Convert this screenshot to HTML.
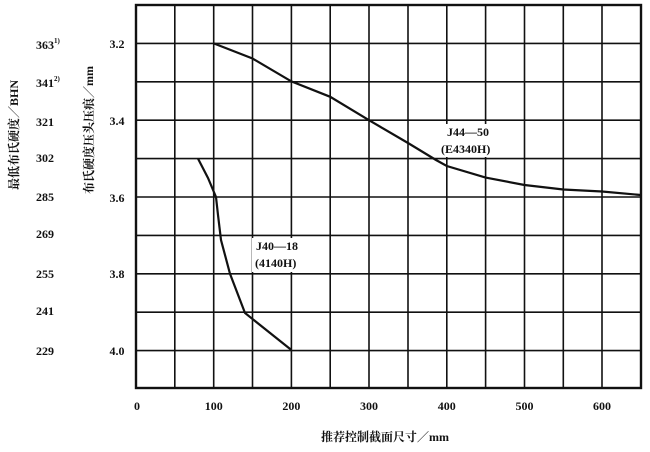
<!DOCTYPE html>
<html><head><meta charset="utf-8"><style>
body{margin:0;background:#fff;}
svg text{font-family:"Liberation Serif","Noto Serif CJK SC",serif;font-weight:bold;fill:#111;}
</style></head><body>
<svg width="650" height="447" viewBox="0 0 650 447" xmlns="http://www.w3.org/2000/svg">
<g stroke="#111" stroke-width="1.6" fill="none">
<line x1="174.8" y1="5" x2="174.8" y2="388"/><line x1="213.7" y1="5" x2="213.7" y2="388"/>
<line x1="252.5" y1="5" x2="252.5" y2="388"/><line x1="291.4" y1="5" x2="291.4" y2="388"/>
<line x1="330.2" y1="5" x2="330.2" y2="388"/><line x1="369" y1="5" x2="369" y2="388"/>
<line x1="408" y1="5" x2="408" y2="388"/><line x1="446.8" y1="5" x2="446.8" y2="388"/>
<line x1="485.6" y1="5" x2="485.6" y2="388"/><line x1="524.5" y1="5" x2="524.5" y2="388"/>
<line x1="563.3" y1="5" x2="563.3" y2="388"/><line x1="602" y1="5" x2="602" y2="388"/>
<line x1="136" y1="43.4" x2="641" y2="43.4"/><line x1="136" y1="81.8" x2="641" y2="81.8"/>
<line x1="136" y1="120.2" x2="641" y2="120.2"/><line x1="136" y1="158.6" x2="641" y2="158.6"/>
<line x1="136" y1="197" x2="641" y2="197"/><line x1="136" y1="235.4" x2="641" y2="235.4"/>
<line x1="136" y1="273.8" x2="641" y2="273.8"/><line x1="136" y1="312.2" x2="641" y2="312.2"/>
<line x1="136" y1="350.6" x2="641" y2="350.6"/>
</g>
<rect x="437" y="124" width="66" height="33" fill="#fff"/>
<rect x="252" y="238" width="60" height="34" fill="#fff"/>
<g stroke="#111" fill="none">
<rect x="136" y="5" width="505" height="383" stroke-width="2.4"/>
<polyline stroke-width="2.2" points="213.7,43.4 252.5,58.5 291.4,81.4 330.2,96.8 369,120.2 408,143 436,160 446.8,166 485.6,177.6 524.5,185 563.3,189.5 602,191.5 641,195"/>
<polyline stroke-width="2.2" points="198,158.6 208,178 216,197 218,215 221,240 230,273.8 245,313 291.4,350"/>
</g>
<g font-size="12" text-anchor="middle">
<text x="137" y="410">0</text><text x="213.7" y="410">100</text><text x="291.4" y="410">200</text>
<text x="369" y="410">300</text><text x="446.8" y="410">400</text><text x="524.5" y="410">500</text><text x="602" y="410">600</text>
</g>
<g font-size="12" text-anchor="middle">
<text x="117" y="48">3.2</text><text x="117" y="125">3.4</text><text x="117" y="202">3.6</text>
<text x="117" y="278">3.8</text><text x="117" y="355">4.0</text>
</g>
<g font-size="12" text-anchor="start">
<text x="36" y="49">363<tspan font-size="7" dy="-6">1)</tspan></text>
<text x="36" y="87">341<tspan font-size="7" dy="-6">2)</tspan></text>
<text x="36" y="126">321</text><text x="36" y="162">302</text><text x="36" y="201">285</text>
<text x="36" y="238">269</text><text x="36" y="278">255</text><text x="36" y="315">241</text><text x="36" y="355">229</text>
</g>
<text font-size="12" transform="translate(18,135) rotate(-90)" text-anchor="middle">最低布氏硬度／BHN</text>
<text font-size="12" transform="translate(93,130) rotate(-90)" text-anchor="middle">布氏硬度压头压痕／mm</text>
<text font-size="12" x="385" y="441" text-anchor="middle">推荐控制截面尺寸／mm</text>
<g font-size="12">
<text x="447" y="136">J44—50</text><text x="441" y="153">(E4340H)</text>
<text x="256" y="250">J40—18</text><text x="255" y="267">(4140H)</text>
</g>
</svg>
</body></html>
